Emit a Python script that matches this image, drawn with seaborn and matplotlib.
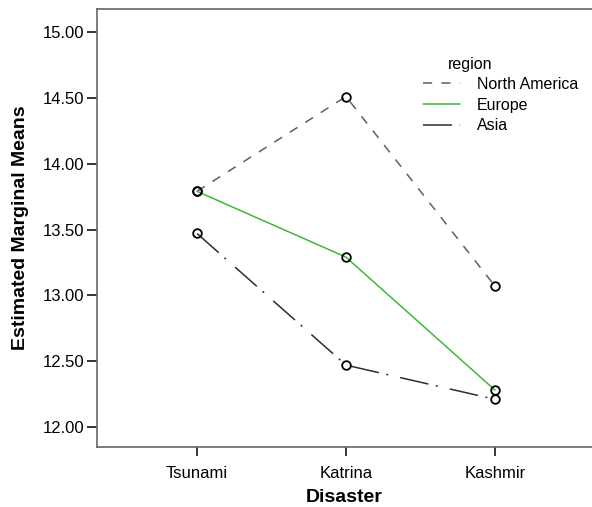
import matplotlib
matplotlib.use('Agg')
import matplotlib.pyplot as plt
import pandas as pd
import seaborn as sns

# Estimated marginal means
disasters = ['Tsunami', 'Katrina', 'Kashmir']
regions = ['North America', 'Europe', 'Asia']
north_america = [13.79, 14.51, 13.07]
europe = [13.79, 13.29, 12.28]
asia = [13.47, 12.47, 12.21]
y_ticks = [12.0, 12.5, 13.0, 13.5, 14.0, 14.5, 15.0]

df = pd.DataFrame({
    'Disaster': disasters * 3,
    'mean': north_america + europe + asia,
    'region': [r for r in regions for _ in disasters],
})

sns.set_style('ticks')
plt.rcParams['font.family'] = ['Liberation Sans', 'DejaVu Sans']
plt.rcParams['text.color'] = 'black'
plt.rcParams['axes.labelcolor'] = 'black'
plt.rcParams['xtick.color'] = 'black'
plt.rcParams['ytick.color'] = 'black'

fig = plt.figure(figsize=(5.92, 5.07), dpi=100)
ax = fig.add_axes([97 / 592, 60 / 507, 1 - 97 / 592, 438 / 507])

palette = {'North America': '#5f5f5f', 'Europe': '#3cb93c', 'Asia': '#2e2e2e'}
dashes = {'North America': (6, 6), 'Europe': '', 'Asia': (19, 5, 1.3, 8)}

sns.lineplot(data=df, x='Disaster', y='mean', hue='region', style='region',
             hue_order=regions, style_order=regions, palette=palette, dashes=dashes,
             sort=False, estimator=None, linewidth=1.1, ax=ax)

# open circle markers on every mean
sns.lineplot(data=df, x='Disaster', y='mean', units='region', estimator=None,
             sort=False, linestyle='', marker='o', markersize=6.2,
             markerfacecolor='none', markeredgecolor='black', markeredgewidth=1.3,
             color='black', legend=False, ax=ax)

ax.set_xlim(-0.671, 2.651)
ax.set_ylim(11.848, 15.175)
ax.set_yticks(y_ticks)
ax.set_yticklabels([f'{v:.2f}' for v in y_ticks])

for side in ['left', 'bottom', 'top']:
    ax.spines[side].set_color('#666666')
    ax.spines[side].set_linewidth(1.2)
ax.spines['right'].set_visible(False)
ax.tick_params(axis='both', length=7, width=1.1, color='black', labelcolor='black',
               labelsize=12, pad=2)
ax.tick_params(axis='x', length=6.5, pad=7)

ax.set_xlabel('Disaster', fontsize=14, fontweight='bold', labelpad=6)
ax.set_ylabel('Estimated Marginal Means', fontsize=14, fontweight='bold', labelpad=10)

sns.move_legend(ax, 'upper left', bbox_to_anchor=(423 / 592, 1 - 77 / 507),
                bbox_transform=fig.transFigure, title=None, frameon=False,
                fontsize=11.5, handlelength=2.3, handletextpad=1.05,
                labelspacing=0.36, borderpad=0, borderaxespad=0)
fig.text(448 / 592, 1 - 65 / 507, 'region', fontsize=11.5, va='center', ha='left')

plt.savefig('out.png', dpi=100, facecolor='white')
plt.close()
